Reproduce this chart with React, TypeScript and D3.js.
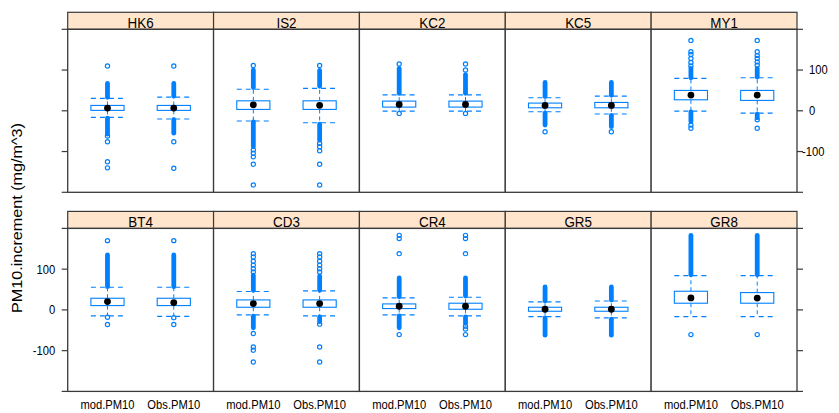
import React from "react";
import * as d3 from "d3";

// Panels in lattice order: bottom row first (left to right), then top row
const sites = ["BT4", "CD3", "CR4", "GR5", "GR8", "HK6", "IS2", "KC2", "KC5", "MY1"];
const variables = ["mod.PM10", "Obs.PM10"];
const yTicks = [-200, -100, 0, 100, 200];
const yTickLabels = ["", "-100", "0", "100", ""];
const yLabel = "PM10.increment (mg/m^3)";

// [mod, obs] per site
const whiskerLow = [[-14.7, -16], [-12.3, -14.7], [-12.3, -14.7], [-16.4, -19.6], [-16.4, -16.4], [-16.2, -20], [-25, -29.5], [-0.7, -0.7], [-2.4, -8], [-0.7, -5.6]];
const quartile1 = [[10.6, 10.6], [6.5, 6.5], [3.3, 1.6], [-3.3, -3.3], [16.4, 16.4], [1, 1], [3.4, 3.4], [9.1, 9.1], [7.4, 7.4], [27, 25.5]];
const medians = [[20.4, 18], [15.5, 15.5], [9, 9], [1.6, 1.6], [29.4, 29], [6.6, 6.6], [14.7, 13.5], [15.7, 15.7], [13.2, 13.2], [38.5, 38.5]];
const quartile3 = [[28.6, 28.6], [24.5, 24.5], [14.7, 16.4], [6.5, 6.5], [45.8, 42.5], [13.2, 13.2], [24.5, 24.5], [23.8, 23.8], [18.9, 20.5], [50, 50]];
const whiskerHigh = [[55.7, 55.7], [45, 46.6], [29.4, 31], [19.6, 22], [84, 84], [30.4, 33.6], [53, 55], [39, 39], [32, 36], [79.5, 81]];

// dense runs of overlapping outliers [from, to]
const outlierRuns: number[][][][] = [
  [[[57, 135]], [[57, 135]]],
  [[[48, 85], [-44, -15.5]], [[48, 83], [-29, -17]]],
  [[[32, 78.5], [-44, -15]], [[34, 78.5], [-33, -17]]],
  [[[22, 56.4], [-62, -19.6]], [[24, 56.4], [-62, -23]]],
  [[[86, 183]], [[86, 183]]],
  [[[33, 67], [-57, -18]], [[36, 67], [-55, -22]]],
  [[[57, 100], [-88, -27]], [[60, 99], [-72, -33]]],
  [[[42.7, 104]], [[43, 89]]],
  [[[35, 69.6], [-35, -5.6]], [[38, 69.6], [-39, -11]]],
  [[[81, 104], [-27, -3]], [[82.7, 104], [-17, -8]]],
];

// isolated outliers
const outlierPoints: number[][][] = [
  [[170, -18, -36], [170, -19, -36]],
  [[93, 101, 110, 119.5, 130, 138, -58, -91, -99, -128], [93, 101, 110, 119.5, 130, 138, -35, -91, -128]],
  [[138, 175, 183, -60.6], [138, 175, 183, -40, -47, -60.6]],
  [[], []],
  [[-60.6], [-60.6]],
  [[110, -62, -76, -125, -140], [110, -76, -141]],
  [[111, -96, -104, -113, -131, -182], [111, -80, -88, -98, -131, -182]],
  [[115, -6.4], [100, 115, -6.4]],
  [[-51.5], [-51.5]],
  [[110, 118.7, 128.5, 138, 145, 172.7, -35, -43], [112, 120, 128.5, 136, 145, 172.7, -22, -43]],
];

const W = 839;
const H = 413;
const LEFT = 67.7;
const RIGHT = 797;
const NCOL = 5;
const PW = (RIGHT - LEFT) / NCOL;
const STRIP_H = 17;
const rowPanelTop = [29.3, 228.4];
const PANEL_H = 163;
const BLUE = "#0080ff";
const BORDER = "#3a3a3a";
const FONT = "'Liberation Sans', Arial, Helvetica, sans-serif";
const VSTRETCH = 1.12;

function Label(props: { x: number; y: number; anchor: string; size: number; children: React.ReactNode }) {
  return (
    <text
      transform={`translate(${props.x},${props.y}) scale(1,${VSTRETCH})`}
      textAnchor={props.anchor as any}
      fontSize={props.size}
      fontFamily={FONT}
      fill="#000"
    >
      {props.children}
    </text>
  );
}

export default function App() {
  const panels = sites.map((site, i) => {
    const row = i < NCOL ? 1 : 0; // 0 = top, 1 = bottom
    const col = i % NCOL;
    const x0 = LEFT + col * PW;
    const top = rowPanelTop[row];
    const y = d3.scaleLinear().domain([-200, 200]).range([top + PANEL_H, top]);
    const x = d3.scaleLinear().domain([0.4, variables.length + 0.6]).range([x0, x0 + PW]);
    const halfBox = (x(1.25) - x(0.75)) / 2;
    return (
      <g key={site}>
        <rect x={x0} y={top} width={PW} height={PANEL_H} fill="#fff" />
        <rect x={x0} y={top - STRIP_H} width={PW} height={STRIP_H} fill="#ffe5cc" stroke={BORDER} strokeWidth={1.2} />
        <Label x={x0 + PW / 2} y={top - 1.6} anchor="middle" size={13.4}>
          {site}
        </Label>
        {variables.map((v, j) => {
          const cx = x(j + 1);
          const lo = whiskerLow[i][j];
          const hi = whiskerHigh[i][j];
          const a = quartile1[i][j];
          const b = quartile3[i][j];
          const m = medians[i][j];
          return (
            <g key={v}>
              {outlierRuns[i][j].map((r, k) => (
                <line key={"r" + k} x1={cx} x2={cx} y1={y(r[0])} y2={y(r[1])} stroke={BLUE} strokeWidth={4.8} strokeLinecap="round" />
              ))}
              {outlierPoints[i][j].map((p, k) => (
                <circle key={"p" + k} cx={cx} cy={y(p)} r={2.1} fill="none" stroke={BLUE} strokeWidth={1.2} />
              ))}
              <line x1={cx} x2={cx} y1={y(b)} y2={y(hi)} stroke={BLUE} strokeWidth={1} strokeDasharray="4,3" />
              <line x1={cx} x2={cx} y1={y(a)} y2={y(lo)} stroke={BLUE} strokeWidth={1} strokeDasharray="4,3" />
              <line x1={cx - halfBox} x2={cx + halfBox} y1={y(hi)} y2={y(hi)} stroke={BLUE} strokeWidth={1.1} strokeDasharray="5,4" />
              <line x1={cx - halfBox} x2={cx + halfBox} y1={y(lo)} y2={y(lo)} stroke={BLUE} strokeWidth={1.1} strokeDasharray="5,4" />
              <rect x={cx - halfBox} y={y(b)} width={halfBox * 2} height={y(a) - y(b)} fill="none" stroke={BLUE} strokeWidth={1.1} />
              <circle cx={cx} cy={y(m)} r={3.4} fill="#000" />
            </g>
          );
        })}
        <rect x={x0} y={top} width={PW} height={PANEL_H} fill="none" stroke={BORDER} strokeWidth={1.3} />
      </g>
    );
  });

  const axes = [0, 1].map((row) => {
    const top = rowPanelTop[row];
    const y = d3.scaleLinear().domain([-200, 200]).range([top + PANEL_H, top]);
    return (
      <g key={"ax" + row}>
        {yTicks.map((t, k) => (
          <g key={t}>
            <line x1={LEFT - 6} x2={LEFT} y1={y(t)} y2={y(t)} stroke={BORDER} strokeWidth={1.2} />
            <line x1={RIGHT} x2={RIGHT + 6} y1={y(t)} y2={y(t)} stroke={BORDER} strokeWidth={1.2} />
            {row === 1 && yTickLabels[k] !== "" && (
              <Label x={LEFT - 12.5} y={y(t) + 4.4} anchor="end" size={11.2}>
                {yTickLabels[k]}
              </Label>
            )}
            {row === 0 && yTickLabels[k] !== "" && (
              <Label x={RIGHT + (t < 0 ? 5 : 12)} y={y(t) + 4.4} anchor="start" size={11.2}>
                {yTickLabels[k]}
              </Label>
            )}
          </g>
        ))}
      </g>
    );
  });

  const xLabels = d3.range(NCOL).map((col) => {
    const x0 = LEFT + col * PW;
    const x = d3.scaleLinear().domain([0.4, variables.length + 0.6]).range([x0, x0 + PW]);
    return variables.map((v, j) => (
      <Label key={col + v} x={x(j + 1)} y={409} anchor="middle" size={11.2}>
        {v}
      </Label>
    ));
  });

  return (
    <div style={{ position: "absolute", left: 0, top: 0 }}>
      <svg width={W} height={H} viewBox={`0 0 ${W} ${H}`} style={{ display: "block", background: "#fff" }}>
        <rect x={0} y={0} width={W} height={H} fill="#fff" />
        {panels}
        {axes}
        {xLabels}
        <text
          transform={`translate(22,218) rotate(-90)`}
          textAnchor="middle"
          fontSize={14.2}
          fontFamily={FONT}
          textLength={190}
          lengthAdjust="spacingAndGlyphs"
        >
          {yLabel}
        </text>
      </svg>
    </div>
  );
}
